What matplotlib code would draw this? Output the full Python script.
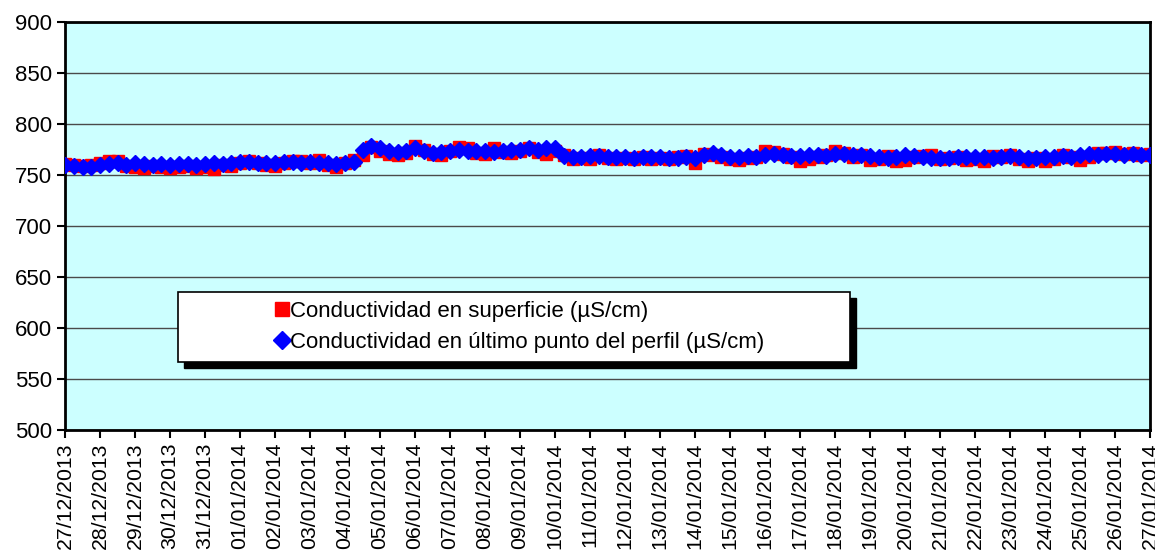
import numpy as np
import pandas as pd
import matplotlib
matplotlib.use('Agg')
import matplotlib.pyplot as plt
import matplotlib.dates as mdates
from matplotlib.patches import Rectangle
from matplotlib.lines import Line2D

plt.rcParams['font.family'] = ['Liberation Sans', 'DejaVu Sans']

# readings every 6 hours, 27/12/2013 00:00 -> 27/01/2014 00:00
fechas = pd.date_range('2013-12-27 00:00', '2014-01-27 00:00', freq='6h')

# conductividad en superficie (uS/cm)
superficie = [
    761, 760, 759, 760,  762, 764, 764, 759,  758, 757, 759, 758,
    757, 758, 759, 757,  758, 756, 760, 759,  762, 764, 762, 760,
    759, 762, 764, 764,  762, 765, 760, 758,  762, 765, 770, 777,
    774, 771, 770, 772,  778, 775, 771, 770,  774, 777, 776, 772,
    771, 776, 773, 772,  774, 776, 773, 771,  774, 770, 766, 767,
    766, 770, 767, 766,  767, 766, 768, 766,  767, 766, 768, 769,
    762, 771, 770, 768,  766, 765, 767, 768,  774, 773, 771, 768,
    764, 766, 768, 770,  774, 772, 768, 770,  765, 766, 769, 764,
    765, 768, 769, 770,  766, 767, 768, 765,  766, 764, 769, 768,
    770, 766, 764, 767,  764, 766, 770, 768,  765, 768, 772, 772,
    773, 771, 772, 770,  771,
]

# conductividad en ultimo punto del perfil (uS/cm)
perfil = [
    760, 759, 758, 758,  760, 761, 762, 760,  762, 761, 760, 761,
    760, 761, 761, 760,  761, 762, 761, 762,  763, 763, 762, 762,
    762, 763, 763, 762,  763, 762, 762, 761,  762, 763, 775, 778,
    776, 774, 773, 774,  776, 774, 772, 773,  774, 775, 774, 774,
    774, 773, 774, 775,  775, 776, 775, 776,  776, 769, 768, 768,
    769, 769, 768, 768,  768, 767, 768, 768,  768, 767, 767, 768,
    767, 770, 772, 770,  768, 768, 769, 768,  770, 771, 770, 769,
    769, 770, 770, 769,  771, 771, 770, 770,  769, 768, 767, 768,
    770, 769, 768, 767,  767, 767, 768, 768,  768, 768, 767, 768,
    769, 768, 767, 767,  768, 768, 769, 768,  770, 771, 770, 771,
    771, 770, 771, 770,  770,
]

etiquetas = ['Conductividad en superficie (µS/cm)',
             'Conductividad en último punto del perfil (µS/cm)']

fig = plt.figure(figsize=(11.55, 5.52), dpi=100)
ax = fig.add_axes([65 / 1155, 1 - 430 / 552, 1085 / 1155, 408 / 552])
ax.set_facecolor('#ccffff')

ax.plot(fechas, superficie, ls='none', marker='s', ms=9, color='#ff0000',
        mec='#ff0000', zorder=3)
ax.plot(fechas, perfil, ls='none', marker='D', ms=8.5, color='#0000ff',
        mec='#0000ff', zorder=4)

ax.set_ylim(500, 900)
ax.set_yticks(np.arange(500, 901, 50))
ax.set_xlim(fechas[0], fechas[-1])
ax.xaxis.set_major_locator(mdates.DayLocator())
ax.xaxis.set_major_formatter(mdates.DateFormatter('%d/%m/%Y'))
plt.setp(ax.get_xticklabels(), rotation=90)

ax.yaxis.grid(True, color='#4a4a4a', lw=1)
ax.set_axisbelow(True)
for s in ax.spines.values():
    s.set_color('black')
    s.set_linewidth(2)
ax.tick_params(axis='both', direction='out', length=6, width=1.5,
               colors='black')
ax.tick_params(axis='y', pad=3, labelsize=16)
ax.tick_params(axis='x', pad=3, labelsize=15.3)

# legend box with black shadow
x0, x1 = 113 / 1085, 785 / 1085
y0, y1 = 68 / 408, 138 / 408
ax.add_patch(Rectangle((x0 + 6 / 1085, y0 - 6 / 408), x1 - x0, y1 - y0,
                       transform=ax.transAxes, facecolor='black',
                       edgecolor='black', zorder=5, clip_on=False))
ax.add_patch(Rectangle((x0, y0), x1 - x0, y1 - y0, transform=ax.transAxes,
                       facecolor='white', edgecolor='black', lw=1.2,
                       zorder=6, clip_on=False))

handles = [
    Line2D([], [], ls='none', marker='s', ms=10, color='#ff0000'),
    Line2D([], [], ls='none', marker='D', ms=9, color='#0000ff'),
]
leg = ax.legend(handles, etiquetas, loc='center left',
                bbox_to_anchor=(211 / 1085, 103 / 408), frameon=False,
                fontsize=16, handlelength=0.55, handletextpad=0.1,
                labelspacing=0.45, borderpad=0, borderaxespad=0)
leg.set_zorder(7)

fig.savefig('out.png', dpi=100)
